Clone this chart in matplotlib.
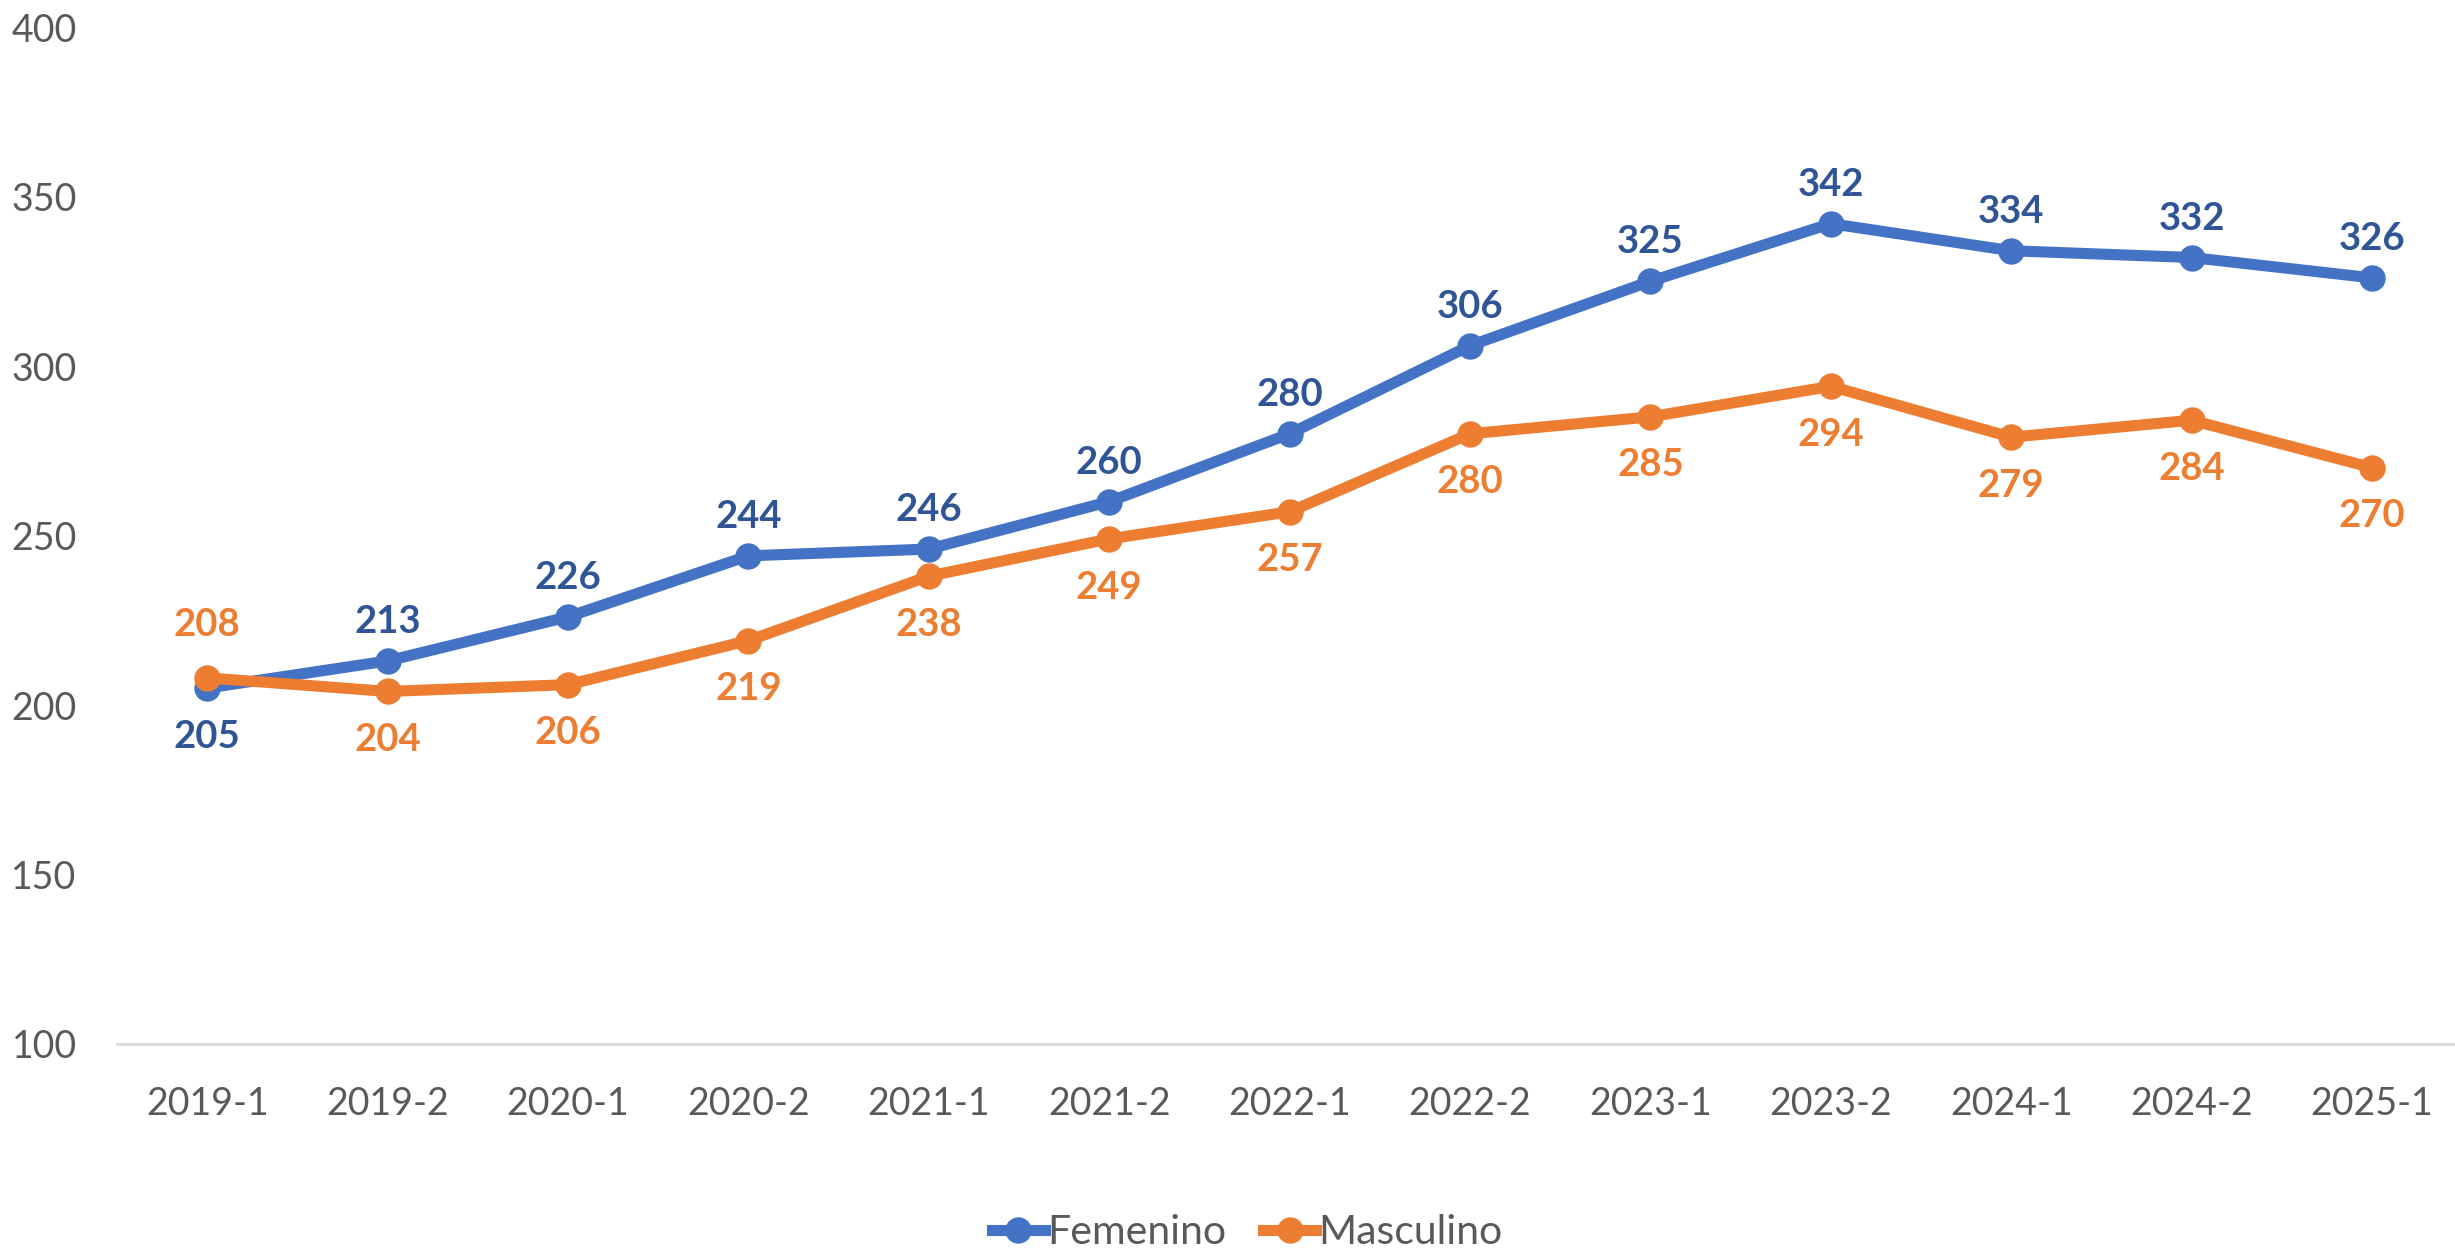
import matplotlib.pyplot as plt
from matplotlib.lines import Line2D

periods   = ["2019-1", "2019-2", "2020-1", "2020-2", "2021-1", "2021-2", "2022-1",
             "2022-2", "2023-1", "2023-2", "2024-1", "2024-2", "2025-1"]
femenino  = [205, 213, 226, 244, 246, 260, 280, 306, 325, 342, 334, 332, 326]
masculino = [208, 204, 206, 219, 238, 249, 257, 280, 285, 294, 279, 284, 270]
# label above (+1) or below (-1) the point, as in the source chart
fem_side  = [-1] + [1] * 12
mas_side  = [1] + [-1] * 12

blue, orange = "#4472C4", "#ED7D31"
blue_lbl = "#2F5597"
grey = "#595959"

plt.rcParams['font.family'] = ['Lato', 'DejaVu Sans']

fig = plt.figure(figsize=(24.55, 12.59), dpi=100)
ax = fig.add_axes([117 / 2455, 1 - 1044 / 1259, (2455 - 117) / 2455, (1044 - 27) / 1259])

x = list(range(len(periods)))
ax.plot(x, femenino, color=blue, lw=8, marker="o", ms=18, solid_capstyle="round", zorder=3)
ax.plot(x, masculino, color=orange, lw=8, marker="o", ms=18, solid_capstyle="round", zorder=4)


def label(i, val, side, color, crossing=False):
    # offsets in points; the crossing point at the start sits a bit higher
    dy = 28 if side > 0 else -35
    if crossing and side > 0:
        dy = 38
    ax.annotate(str(val), (i, val), xytext=(0, dy), textcoords="offset points",
                ha="center", va="center", fontsize=27.5, fontweight="bold", color=color)


for i in x:
    label(i, femenino[i], fem_side[i], blue_lbl)
    label(i, masculino[i], mas_side[i], orange, crossing=(i == 0))

ax.set_xlim(-0.5, 12.46)
ax.set_ylim(100, 400)
ax.set_yticks(range(100, 401, 50))
ax.set_xticks(x)
ax.set_xticklabels(periods)
ax.tick_params(axis="both", length=0, labelsize=27, labelcolor=grey)
ax.tick_params(axis="x", pad=30)
ax.tick_params(axis="y", pad=29)
for s in ["top", "right", "left"]:
    ax.spines[s].set_visible(False)
ax.spines["bottom"].set_color("#D9D9D9")
ax.spines["bottom"].set_linewidth(2)

handles = [Line2D([], [], color=blue, lw=8, marker="o", ms=18),
           Line2D([], [], color=orange, lw=8, marker="o", ms=18)]
fig.legend(handles, ["Femenino", "Masculino"], loc="center", bbox_to_anchor=(0.508, 26 / 1259),
           ncol=2, frameon=False, fontsize=29.5, labelcolor=grey,
           handlelength=1.3, handletextpad=0.05, columnspacing=0.9)

fig.savefig("out.png", dpi=100)
